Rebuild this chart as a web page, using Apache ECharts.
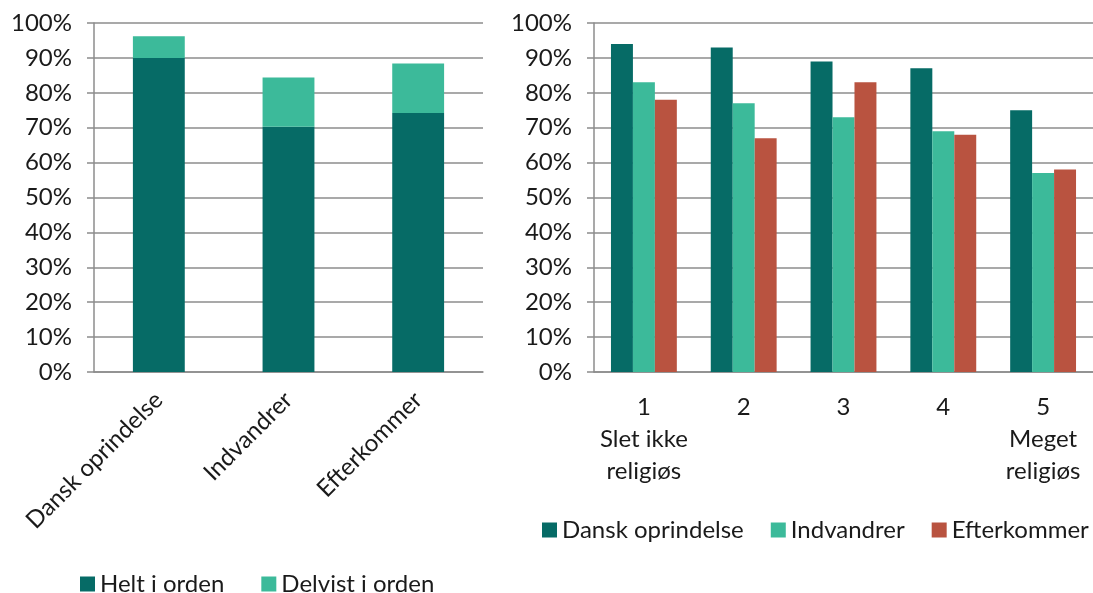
<!DOCTYPE html>
<html>
<head>
<meta charset="utf-8">
<script src="https://cdn.jsdelivr.net/npm/echarts@6/dist/echarts.min.js"></script>
<style>
  html, body { margin: 0; padding: 0; background: #fff; }
  #main { width: 1093px; height: 593px; }
</style>
</head>
<body>
<div id="main"></div>
<script>
  // left chart: stacked
  var groups = ['Dansk oprindelse', 'Indvandrer', 'Efterkommer'];
  var heltIOrden = [90, 70.3, 74.2];
  var delvistIOrden = [6.2, 14.1, 14.2];

  // right chart: by religiosity
  var levels = ['1\nSlet ikke\nreligiøs', '2', '3', '4', '5\nMeget\nreligiøs'];
  var danskOprindelse = [94, 93, 89, 87, 75];
  var indvandrer = [83, 77, 73, 69, 57];
  var efterkommer = [78, 67, 83, 68, 58];

  var dark = '#066b66', light = '#3cba9a', red = '#b95340';
  var font = 'Lato';
  var txt = '#1a1a1a';

  function yAxis(idx) {
    return {
      gridIndex: idx, type: 'value', min: 0, max: 100, interval: 10,
      axisLine: { show: true, lineStyle: { color: '#8c8c8c', width: 1.5 } },
      axisTick: { show: true, length: 7, lineStyle: { color: '#8c8c8c', width: 1.5 } },
      splitLine: { lineStyle: { color: '#8c8c8c', width: 1.5 } },
      axisLabel: { formatter: '{value}%', fontFamily: font, fontSize: 24, color: txt, margin: 22 }
    };
  }

  var myChart = echarts.init(document.getElementById('main'));
  myChart.setOption({
    animation: false,
    grid: [
      { left: 94, right: 610, top: 23, bottom: 221 },
      { left: 594, right: -6, top: 23, bottom: 221 }
    ],
    legend: [
      {
        data: ['Helt i orden', 'Delvist i orden'],
        left: 80, top: 572, padding: 0, itemWidth: 15, itemHeight: 15, itemGap: 37,
        icon: 'rect',
        textStyle: { fontFamily: font, fontSize: 24, color: txt }
      },
      {
        data: ['Dansk oprindelse', 'Indvandrer', 'Efterkommer'],
        left: 542, top: 518, padding: 0, itemWidth: 15, itemHeight: 15, itemGap: 27,
        icon: 'rect',
        textStyle: { fontFamily: font, fontSize: 24, color: txt }
      }
    ],
    xAxis: [
      {
        gridIndex: 0, type: 'category', data: groups,
        axisLine: { lineStyle: { color: '#8c8c8c', width: 1.5 } },
        axisTick: { length: 7, lineStyle: { color: '#8c8c8c', width: 1.5 } },
        axisLabel: { rotate: 45, interval: 0, margin: 24, fontFamily: font, fontSize: 24, color: txt }
      },
      {
        gridIndex: 1, type: 'category', data: levels,
        axisLine: { lineStyle: { color: '#8c8c8c', width: 1.5 } },
        axisTick: { length: 7, lineStyle: { color: '#8c8c8c', width: 1.5 } },
        axisLabel: { interval: 0, margin: 19, fontFamily: font, fontSize: 24, color: txt, lineHeight: 32 }
      }
    ],
    yAxis: [yAxis(0), yAxis(1)],
    series: [
      { name: 'Helt i orden', type: 'bar', stack: 'a', xAxisIndex: 0, yAxisIndex: 0,
        barWidth: '40%', itemStyle: { color: dark }, data: heltIOrden },
      { name: 'Delvist i orden', type: 'bar', stack: 'a', xAxisIndex: 0, yAxisIndex: 0,
        barWidth: '40%', itemStyle: { color: light }, data: delvistIOrden },
      { name: 'Dansk oprindelse', type: 'bar', xAxisIndex: 1, yAxisIndex: 1,
        barGap: '0%', barCategoryGap: '34%', itemStyle: { color: dark }, data: danskOprindelse },
      { name: 'Indvandrer', type: 'bar', xAxisIndex: 1, yAxisIndex: 1,
        barGap: '0%', barCategoryGap: '34%', itemStyle: { color: light }, data: indvandrer },
      { name: 'Efterkommer', type: 'bar', xAxisIndex: 1, yAxisIndex: 1,
        barGap: '0%', barCategoryGap: '34%', itemStyle: { color: red }, data: efterkommer }
    ]
  });
</script>
</body>
</html>
